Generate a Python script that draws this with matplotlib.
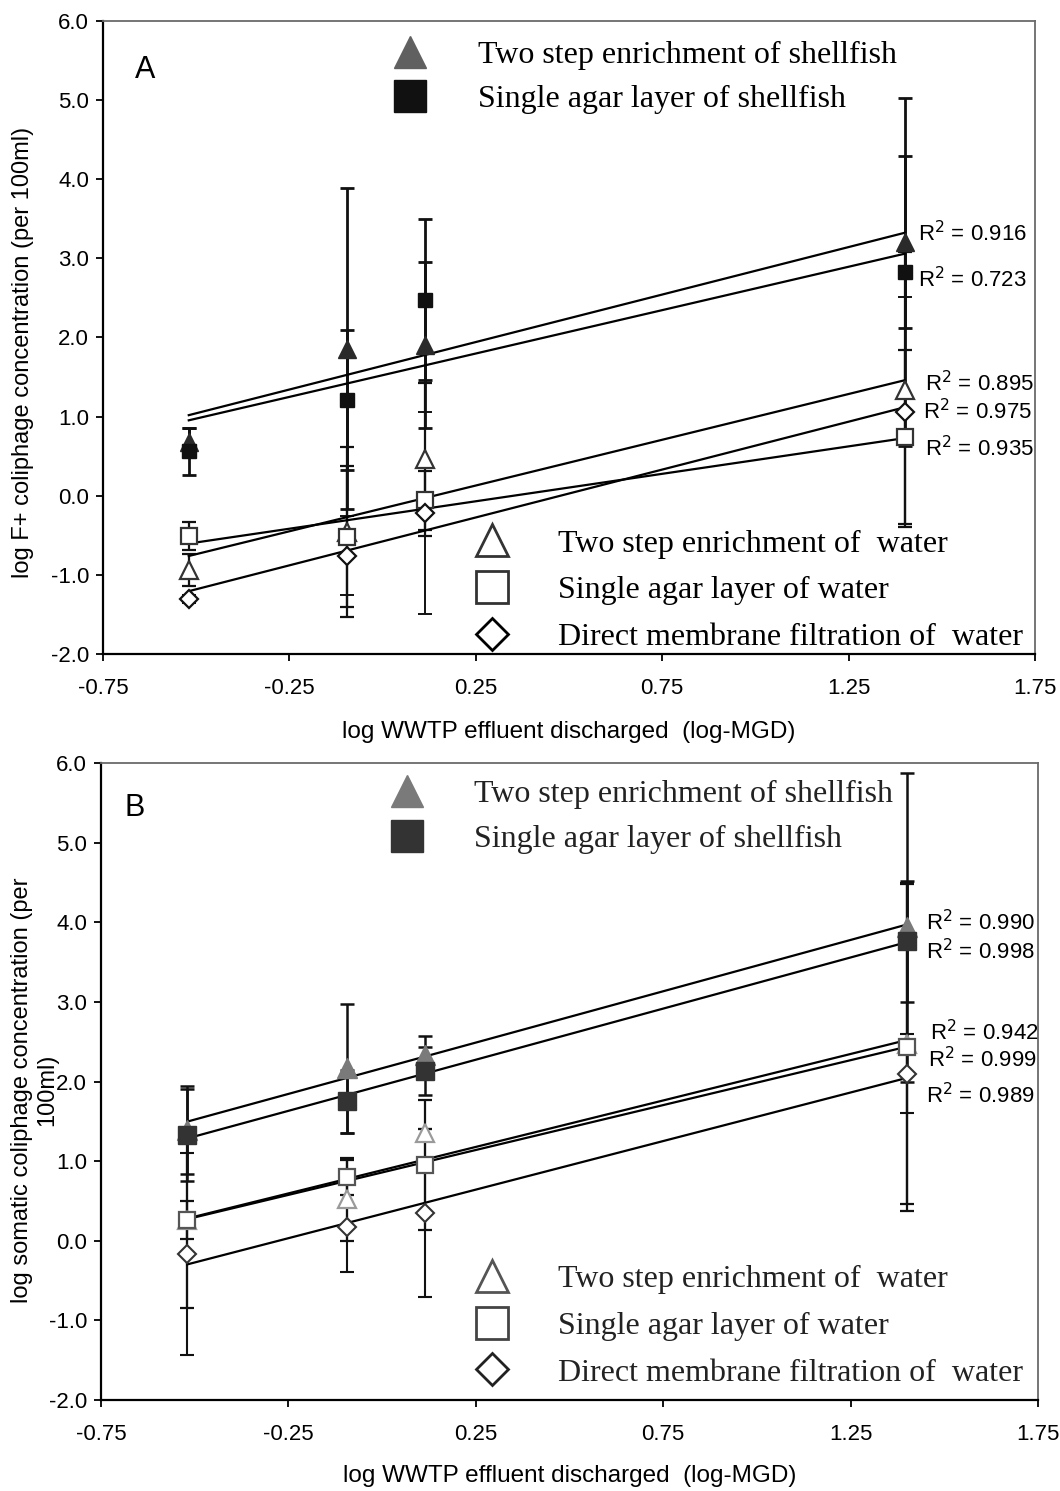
import numpy as np
import matplotlib
matplotlib.use("Agg")
import matplotlib.pyplot as plt
from matplotlib.lines import Line2D

plt.rcParams['axes.unicode_minus'] = False
plt.rcParams['font.family'] = ['Liberation Sans', 'DejaVu Sans']

# ---------------- data ----------------
x_flow = [-0.52, -0.095, 0.115, 1.40]
x_ticks = [-0.75, -0.25, 0.25, 0.75, 1.25, 1.75]
x_ticklabels = ["-0.75", "-0.25", "0.25", "0.75", "1.25", "1.75"]
y_ticks = [-2, -1, 0, 1, 2, 3, 4, 5, 6]
y_ticklabels = ["-2.0", "-1.0", "0.0", "1.0", "2.0", "3.0", "4.0", "5.0", "6.0"]

# Panel A: F+ coliphage
a_two_shell = [0.68, 1.86, 1.90, 3.21]
a_two_shell_err = [0.17, 2.03, 1.05, 1.09]
a_single_shell = [0.56, 1.21, 2.48, 2.83]
a_single_shell_err = [0.30, 0.89, 1.02, 2.20]
a_two_water = [-0.94, -0.46, 0.46, 1.34]
a_two_water_err = [0.20, 1.07, 0.97, 1.74]
a_single_water = [-0.51, -0.52, -0.06, 0.74]
a_single_water_err = [0.18, 0.89, 0.37, 1.10]
a_direct_water = [-1.30, -0.76, -0.22, 1.06]
a_direct_water_err = [0.05, 0.50, 1.28, 1.45]
a_r2 = ["0.916", "0.723", "0.895", "0.975", "0.935"]
a_r2_pos = [(1.436, 3.31), (1.436, 2.73), (1.455, 1.42), (1.450, 1.06), (1.455, 0.60)]

# Panel B: somatic coliphage
b_two_shell = [1.39, 2.17, 2.33, 3.94]
b_two_shell_err = [0.55, 0.81, 0.24, 1.94]
b_single_shell = [1.33, 1.75, 2.13, 3.76]
b_single_shell_err = [0.58, 0.40, 0.30, 0.76]
b_two_water = [0.26, 0.52, 1.35, 2.47]
b_two_water_err = [1.10, 0.52, 0.06, 2.01]
b_single_water = [0.26, 0.80, 0.95, 2.44]
b_single_water_err = [0.24, 0.22, 0.82, 2.06]
b_direct_water = [-0.17, 0.17, 0.35, 2.10]
b_direct_water_err = [1.27, 0.56, 1.05, 0.50]
b_r2 = ["0.990", "0.998", "0.942", "0.999", "0.989"]
b_r2_pos = [(1.451, 4.00), (1.451, 3.63), (1.462, 2.61), (1.457, 2.27), (1.451, 1.83)]

lab_two_shell = "Two step enrichment of shellfish"
lab_single_shell = "Single agar layer of shellfish"
lab_two_water = "Two step enrichment of  water"
lab_single_water = "Single agar layer of water"
lab_direct_water = "Direct membrane filtration of  water"

fig = plt.figure(figsize=(10.6, 14.91), dpi=100)
axA = fig.add_axes([0.0972, 0.5614, 0.8792, 0.4245])
axB = fig.add_axes([0.0953, 0.0610, 0.8840, 0.4272])

serif = {'family': ['Liberation Serif', 'DejaVu Serif'], 'size': 23}


def draw_series(ax, y, err, marker, ms, fc, ec, mew, elw):
    ax.errorbar(x_flow, y, yerr=err, fmt='none', ecolor='#111111', elinewidth=elw,
                capsize=4.7, capthick=elw, zorder=2)
    xs = np.array(x_flow)
    coef = np.polyfit(xs, np.array(y), 1)
    xl = np.array([xs.min(), xs.max()])
    ax.plot(xl, np.polyval(coef, xl), color='black', lw=1.6, zorder=3)
    ax.plot(x_flow, y, linestyle='none', marker=marker, ms=ms, mfc=fc, mec=ec, mew=mew, zorder=4)


def style_axes(ax, xlab_y):
    ax.set_xlim(-0.75, 1.75)
    ax.set_ylim(-2, 6)
    ax.set_xticks(x_ticks)
    ax.set_xticklabels(x_ticklabels)
    ax.set_yticks(y_ticks)
    ax.set_yticklabels(y_ticklabels)
    ax.tick_params(direction='out', length=5, width=1.3, labelsize=16, color='black')
    ax.tick_params(axis='x', pad=12)
    ax.tick_params(axis='y', pad=5)
    for s in ['left', 'bottom']:
        ax.spines[s].set_linewidth(1.6)
        ax.spines[s].set_color('black')
    for s in ['top', 'right']:
        ax.spines[s].set_linewidth(1.3)
        ax.spines[s].set_color('#6a6a6a')
    ax.set_xlabel("log WWTP effluent discharged  (log-MGD)", fontsize=17.5)
    ax.xaxis.set_label_coords(0.5, xlab_y)


# ---------------- Panel A ----------------
draw_series(axA, a_two_shell, a_two_shell_err, '^', 13, '#2a2a2a', '#2a2a2a', 1.0, 2.0)
draw_series(axA, a_single_shell, a_single_shell_err, 's', 9.5, '#111111', '#111111', 1.0, 2.0)
draw_series(axA, a_two_water, a_two_water_err, '^', 13, 'white', '#333333', 1.6, 1.6)
draw_series(axA, a_single_water, a_single_water_err, 's', 12, 'white', '#333333', 1.6, 1.6)
draw_series(axA, a_direct_water, a_direct_water_err, 'D', 9.2, 'white', '#111111', 1.6, 1.4)
style_axes(axA, -0.106)
axA.set_ylabel("log F+ coliphage concentration (per 100ml)", fontsize=17)
axA.yaxis.set_label_coords(-0.074, 0.477)
axA.text(0.045, 0.923, "A", transform=axA.transAxes, fontsize=22, ha='center', va='center')
for t, (px, py) in zip(a_r2, a_r2_pos):
    axA.text(px, py, "R$^2$ = " + t, fontsize=16, ha='left', va='center')

hA1 = [Line2D([], [], ls='none', marker='^', ms=23, mfc='#606060', mec='#606060'),
       Line2D([], [], ls='none', marker='s', ms=23, mfc='#111111', mec='#111111')]
legA1 = axA.legend(hA1, [lab_two_shell, lab_single_shell], loc='upper left',
                   bbox_to_anchor=(0.295, 0.9685), frameon=False, prop=serif,
                   borderpad=0, borderaxespad=0, handlelength=2.0, handletextpad=1.13,
                   labelspacing=0.45)
axA.add_artist(legA1)
hA2 = [Line2D([], [], ls='none', marker='^', ms=23, mfc='white', mec='#333333', mew=2),
       Line2D([], [], ls='none', marker='s', ms=23, mfc='white', mec='#333333', mew=2),
       Line2D([], [], ls='none', marker='D', ms=16.5, mfc='white', mec='#000000', mew=2)]
axA.legend(hA2, [lab_two_water, lab_single_water, lab_direct_water], loc='upper left',
           bbox_to_anchor=(0.383, 0.197), frameon=False, prop=serif,
           borderpad=0, borderaxespad=0, handlelength=2.0, handletextpad=1.07,
           labelspacing=0.54)

# ---------------- Panel B ----------------
draw_series(axB, b_two_shell, b_two_shell_err, '^', 13.7, '#7a7a7a', '#7a7a7a', 1.0, 1.8)
draw_series(axB, b_single_shell, b_single_shell_err, 's', 12.5, '#333333', '#333333', 1.0, 1.8)
draw_series(axB, b_two_water, b_two_water_err, '^', 13, 'white', '#9a9a9a', 1.6, 1.6)
draw_series(axB, b_single_water, b_single_water_err, 's', 11.5, 'white', '#555555', 1.6, 1.6)
draw_series(axB, b_direct_water, b_direct_water_err, 'D', 8.7, 'white', '#333333', 1.5, 1.5)
style_axes(axB, -0.102)
axB.set_ylabel("log somatic coliphage concentration (per\n100ml)", fontsize=17,
               linespacing=1.15)
axB.yaxis.set_label_coords(-0.046, 0.487)
axB.text(0.036, 0.929, "B", transform=axB.transAxes, fontsize=22, ha='center', va='center')
for t, (px, py) in zip(b_r2, b_r2_pos):
    axB.text(px, py, "R$^2$ = " + t, fontsize=16, ha='left', va='center')

hB1 = [Line2D([], [], ls='none', marker='^', ms=23, mfc='#7a7a7a', mec='#7a7a7a'),
       Line2D([], [], ls='none', marker='s', ms=23, mfc='#333333', mec='#333333')]
legB1 = axB.legend(hB1, [lab_two_shell, lab_single_shell], loc='upper left',
                   bbox_to_anchor=(0.2924, 0.9735), frameon=False, prop=serif,
                   borderpad=0, borderaxespad=0, handlelength=2.0, handletextpad=1.10,
                   labelspacing=0.48)
for t in legB1.get_texts():
    t.set_color('#222222')
axB.add_artist(legB1)
hB2 = [Line2D([], [], ls='none', marker='^', ms=23, mfc='white', mec='#555555', mew=2),
       Line2D([], [], ls='none', marker='s', ms=23, mfc='white', mec='#444444', mew=2),
       Line2D([], [], ls='none', marker='D', ms=16.5, mfc='white', mec='#222222', mew=2)]
legB2 = axB.legend(hB2, [lab_two_water, lab_single_water, lab_direct_water], loc='upper left',
                   bbox_to_anchor=(0.383, 0.2120), frameon=False, prop=serif,
                   borderpad=0, borderaxespad=0, handlelength=2.0, handletextpad=1.07,
                   labelspacing=0.54)
for t in legB2.get_texts():
    t.set_color('#222222')

fig.savefig("out.png", dpi=100)
